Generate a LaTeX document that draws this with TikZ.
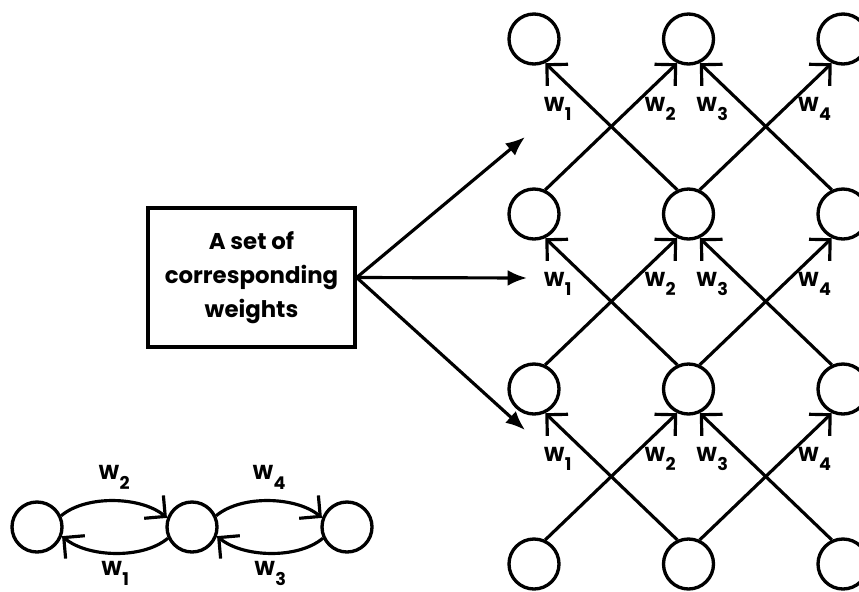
\documentclass[tikz,border=0pt]{standalone}
\usepackage{fontspec}
\setmainfont{Poppins}
\usetikzlibrary{arrows.meta}
\usetikzlibrary{positioning}
\tikzset{unit/.style = {draw, circle, line width = 1.9pt, inner sep = 0, minimum size = 1cm}}
\tikzset{wt/.style = {-{Straight Barb[length = 8.5pt, width = 17pt]}, line width = 1.8pt}}
\tikzset{feed/.style = {-{Latex[length = 11pt, width = 9pt]}, line width = 1.8pt}}
\tikzset{wlab/.style = {inner sep = 0, font = \fontsize{11.5}{13}\selectfont\bfseries}}
\newcommand{\wsub}[1]{W\raisebox{-5.5pt}{\fontsize{10}{12}\selectfont #1}}

\begin{document}
\begin{tikzpicture}
      \useasboundingbox (0, 0) rectangle (17.18, 11.82);
      % grid of units
      \foreach \r/\y in {1/11.04, 2/7.54, 3/4.04, 4/0.54} {
        \foreach \c/\x in {1/10.68, 2/13.77, 3/16.86} {
          \node [unit] (n-\r-\c) at (\x, \y) {};
        }
      }
      \foreach \r/\s in {1/2, 2/3, 3/4} {
        \foreach \c/\d/\k in {1/2/1, 2/3/3} {
          \draw [wt] (n-\s-\d.115) -- (n-\r-\c.-65);
          \node [wlab] (w-\r-\k) at ([shift={(0.47, -1.4)}] n-\r-\c) {\wsub{\k}};
        }
        \foreach \c/\d/\k in {2/1/2, 3/2/4} {
          \draw [wt] (n-\s-\d.65) -- (n-\r-\c.-115);
          \node [wlab] (w-\r-\k) at ([shift={(-0.57, -1.4)}] n-\r-\c) {\wsub{\k}};
        }
      }
      % weight box
      \node [draw, line width = 1.9pt, minimum width = 4.14cm, minimum height = 2.78cm, align = center,
             font = \fontsize{13}{19.3}\selectfont\bfseries] (wts) at (5.03, 6.27) {A set of\\corresponding\\weights};
      \coordinate (t-1) at (10.5, 9.08);
      \coordinate (t-2) at (10.54, 6.26);
      \coordinate (t-3) at (10.5, 3.22);
      \foreach \i in {1,2,3} {
        \draw [feed] (wts.east) -- (t-\i);
      }
      % small net
      \node [unit] (a) at (0.74, 1.28) {};
      \node [unit] (b) at (3.84, 1.28) {};
      \node [unit] (c) at (6.94, 1.28) {};
      \draw [wt] (a.25) to [out = 40, in = 140, looseness = 0.8] node [wlab, above = 0.2cm] (v-2) {\wsub{2}} (b.160);
      \draw [wt] (b.-155) to [out = -140, in = -40, looseness = 0.8] node [wlab, below = 0.13cm] (v-1) {\wsub{1}} (a.-20);
      \draw [wt] (b.25) to [out = 40, in = 140, looseness = 0.8] node [wlab, above = 0.2cm] (v-4) {\wsub{4}} (c.160);
      \draw [wt] (c.-155) to [out = -140, in = -40, looseness = 0.8] node [wlab, below = 0.13cm] (v-3) {\wsub{3}} (b.-20);
    \end{tikzpicture}
\end{document}
